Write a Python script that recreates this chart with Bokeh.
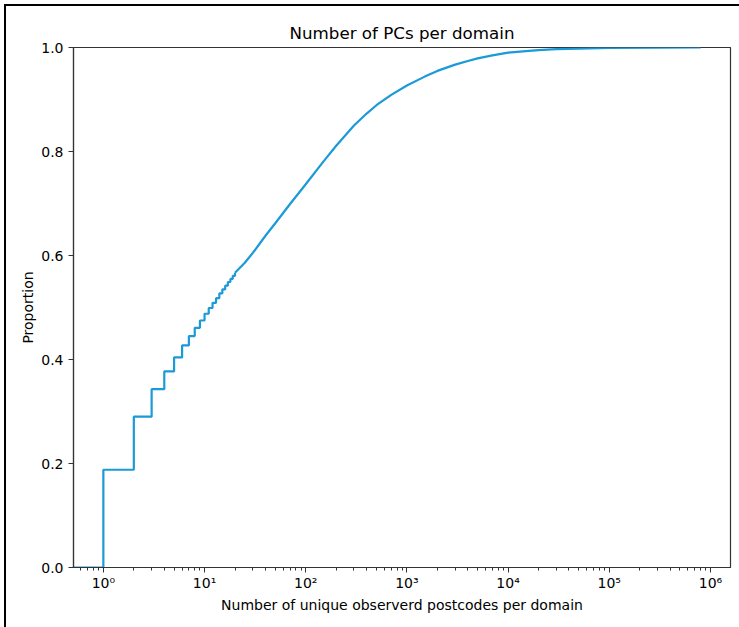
import math
from bokeh.plotting import figure
from bokeh.models import (FixedTicker, CustomJSTickFormatter, NumeralTickFormatter,
                          Range1d)
from bokeh.embed import file_html
from bokeh.resources import INLINE

# ---- data (ECDF of unique postcodes per domain) ----
step_counts = [1, 2, 3, 4, 5, 6, 7, 8, 9, 10,
               11, 12, 13, 14, 15, 16, 17, 18, 19, 20]
step_props = [0.188, 0.290, 0.343, 0.377, 0.404, 0.427, 0.445, 0.461, 0.475, 0.488,
              0.499, 0.509, 0.518, 0.527, 0.535, 0.542, 0.549, 0.555, 0.561, 0.567]

curve_counts = [20, 25, 30, 40, 50, 70, 100, 150, 200, 300, 400, 500, 700,
                1000, 1500, 2000, 3000, 4000, 5000, 7000, 10000, 15000, 20000,
                30000, 50000, 100000, 300000, 800000]
curve_props = [0.567, 0.586, 0.605, 0.638, 0.662, 0.699, 0.737, 0.781, 0.811, 0.850,
               0.873, 0.889, 0.909, 0.927, 0.944, 0.955, 0.967, 0.974, 0.979, 0.985,
               0.990, 0.993, 0.995, 0.997, 0.998, 0.9994, 0.9999, 1.0]

x_tick_values = [1, 10, 100, 1000, 10000, 100000, 1000000]
x_tick_labels = ["10\u2070", "10\u00b9", "10\u00b2", "10\u00b3", "10\u2074", "10\u2075", "10\u2076"]
y_tick_values = [0.0, 0.2, 0.4, 0.6, 0.8, 1.0]

title_text = "Number of PCs per domain"
x_label = "Number of unique observerd postcodes per domain"
y_label = "Proportion"

# ---- matplotlib-like 5% margins in log space ----
lo = math.log10(min(step_counts))
hi = math.log10(max(curve_counts))
pad = 0.05 * (hi - lo)
x_lo, x_hi = 10 ** (lo - pad), 10 ** (hi + pad)

FONT = "DejaVu Sans"
LINE = "#1a9ad6"
AX = "#333333"

p = figure(width=739, height=627, x_axis_type="log",
           x_range=Range1d(x_lo, x_hi), y_range=Range1d(0, 1),
           output_backend="svg", toolbar_location=None,
           min_border_left=73, min_border_right=9,
           min_border_top=47, min_border_bottom=60)

p.step([x_lo] + step_counts, [0.0] + step_props, mode="after",
       line_color=LINE, line_width=2.2)
p.line(curve_counts, curve_props, line_color=LINE, line_width=2.2)

# axes
p.xgrid.visible = False
p.ygrid.visible = False
p.outline_line_color = AX
p.outline_line_width = 1.2
p.background_fill_color = "white"
p.border_fill_alpha = 0
# thin page frame on the left and top edges of the screenshot
p.styles = {
    "background-color": "white",
    "background-image": "linear-gradient(#000,#000), linear-gradient(#000,#000)",
    "background-size": "2px 100%, 100% 2px",
    "background-position": "4px 4px, 4px 4px",
    "background-repeat": "no-repeat",
}

minor = []
for d in range(-1, 7):
    for k in range(2, 10):
        v = k * 10 ** d
        if x_lo < v < x_hi:
            minor.append(v)
p.xaxis.ticker = FixedTicker(ticks=x_tick_values, minor_ticks=minor)
p.xaxis.formatter = CustomJSTickFormatter(
    args=dict(vals=x_tick_values, labs=x_tick_labels),
    code="""
    for (let i = 0; i < vals.length; i++) {
        if (Math.abs(Math.log10(tick) - Math.log10(vals[i])) < 1e-6) return labs[i];
    }
    return "";
    """)
p.yaxis.ticker = FixedTicker(ticks=y_tick_values, minor_ticks=[])
p.yaxis.formatter = NumeralTickFormatter(format="0.0")

for ax in (p.xaxis[0], p.yaxis[0]):
    ax.axis_line_color = AX
    ax.axis_line_width = 1.2
    ax.major_tick_line_color = AX
    ax.minor_tick_line_color = AX
    ax.major_tick_in = 0
    ax.major_tick_out = 5
    ax.minor_tick_in = 0
    ax.minor_tick_out = 3
    ax.major_label_text_font = FONT
    ax.major_label_text_font_size = "14px"
    ax.major_label_text_color = "black"
    ax.axis_label_text_font = FONT
    ax.axis_label_text_font_size = "14px"
    ax.axis_label_text_font_style = "normal"
    ax.axis_label_text_color = "black"

p.xaxis.major_label_standoff = 2
p.xaxis.axis_label_standoff = 3
p.yaxis.major_label_standoff = 5
p.yaxis.axis_label_standoff = 2

p.xaxis.axis_label = x_label
p.yaxis.axis_label = y_label

p.title.text = title_text
p.title.align = "center"
p.title.text_font = FONT
p.title.text_font_size = "16.7px"
p.title.text_font_style = "normal"
p.title.text_color = "black"
p.title.standoff = 9

open("out.html", "w").write(file_html(p, INLINE))
